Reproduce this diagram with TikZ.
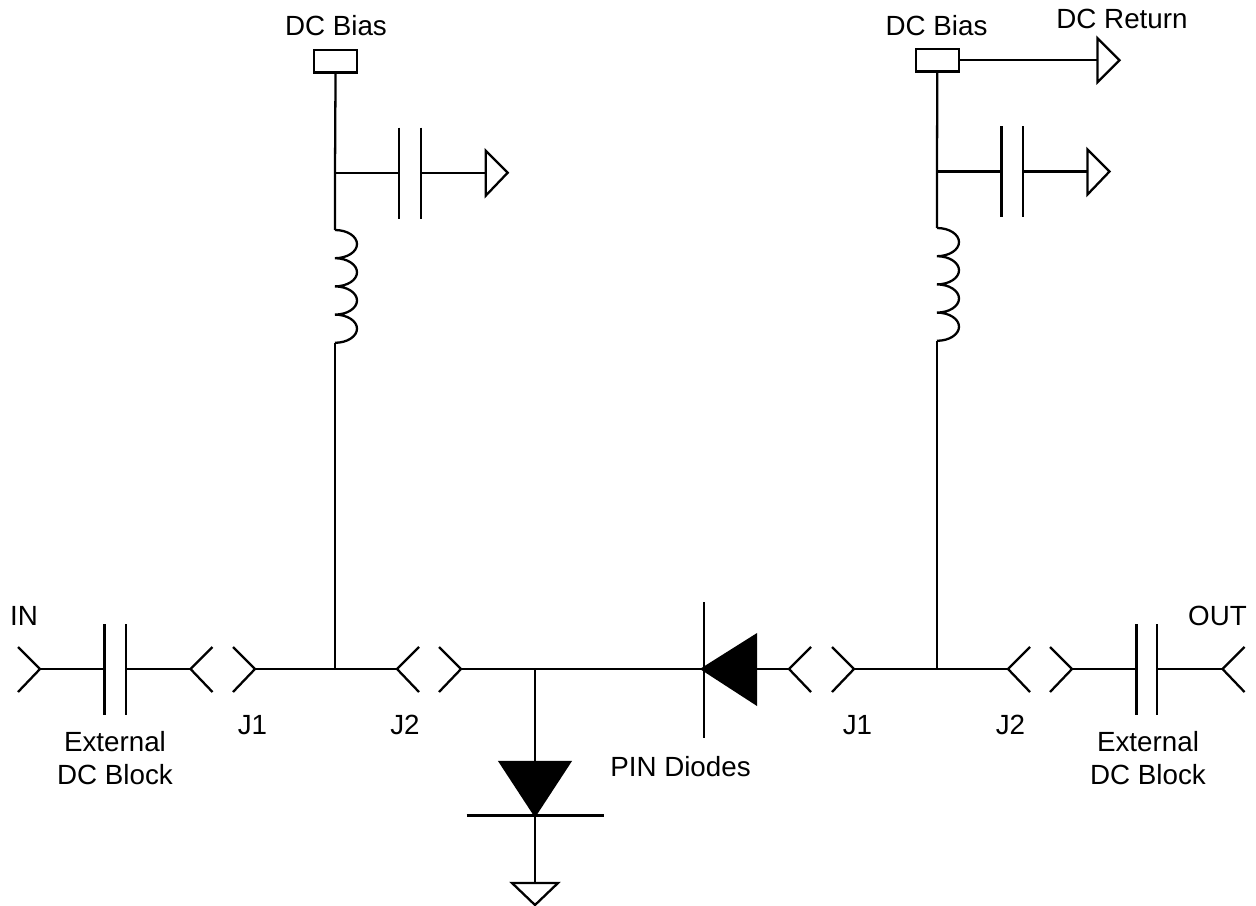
\documentclass[tikz,border=0pt]{standalone}
\usepackage{fontspec}
\setmainfont{Liberation Sans}

\tikzset{
    wire/.style={line width=1.3pt, black},
    bodyfill/.style={wire, fill=black},
    stub/.style={wire, fill=white},
    lbl/.style={anchor=base, inner sep=0pt, font=\fontsize{15.8}{18}\selectfont},
}

\begin{document}
\begin{tikzpicture}[x=0.02cm,y=-0.02cm]
            \useasboundingbox (0,0) rectangle (1256,905);

            % main line, left to right
            \coordinate (IN) at (40,669);
            \coordinate (CAL) at (104.5,669);
            \coordinate (CBL) at (126,669);
            \coordinate (PA) at (190.5,669);
            \coordinate (PB) at (255,669);
            \coordinate (JL) at (335,669);
            \coordinate (PC) at (397,669);
            \coordinate (PD) at (461,669);
            \coordinate (JM) at (535,669);
            \coordinate (DR) at (704,669);
            \coordinate (DRB) at (756,669);
            \coordinate (PE) at (789,669);
            \coordinate (PF) at (854,669);
            \coordinate (JR) at (937,669);
            \coordinate (PG) at (1008,669);
            \coordinate (PH) at (1072,669);
            \coordinate (CAR) at (1136.5,669);
            \coordinate (CBR) at (1157,669);
            \coordinate (OUT) at (1222.5,669);

            \draw[wire] (IN) -- (CAL);
            \draw[wire] (CAL) +(0,-45) -- +(0,46);
            \draw[wire] (CBL) +(0,-45) -- +(0,46);
            \draw[wire] (CBL) -- (PA);
            \draw[wire] (PB) -- (PC);
            \draw[wire] (PD) -- (DR);
            \draw[wire] (DRB) -- (PE);
            \draw[wire] (PF) -- (PG);
            \draw[wire] (PH) -- (CAR);
            \draw[wire] (CAR) +(0,-45) -- +(0,46);
            \draw[wire] (CBR) +(0,-45) -- +(0,46);
            \draw[wire] (CBR) -- (OUT);

            % connectors
            \draw[wire] (IN) +(-22,-22) -- (IN) -- +(-22,23);
            \draw[wire] (PA) +(22,-22) -- (PA) -- +(22,23);
            \draw[wire] (PB) +(-22,-22) -- (PB) -- +(-22,23);
            \draw[wire] (PC) +(22,-22) -- (PC) -- +(22,23);
            \draw[wire] (PD) +(-22,-22) -- (PD) -- +(-22,23);
            \draw[wire] (PE) +(22,-22) -- (PE) -- +(22,23);
            \draw[wire] (PF) +(-22,-22) -- (PF) -- +(-22,23);
            \draw[wire] (PG) +(22,-22) -- (PG) -- +(22,23);
            \draw[wire] (PH) +(-22,-22) -- (PH) -- +(-22,23);
            \draw[wire] (OUT) +(22,-22) -- (OUT) -- +(22,23);

            % pin diodes
            \draw[wire] (DR) +(0,-67) -- +(0,69);
            \draw[bodyfill] (DRB) +(0,-34) -- +(0,35) -- (702,669) -- cycle;

            \coordinate (DD) at (535,815.5);
            \coordinate (GM) at (535,883);
            \draw[wire] (JM) -- (535,762);
            \draw[bodyfill] (500,762) -- (570,762) -- (DD) -- cycle;
            \draw[wire] (DD) +(-68.5,0) -- +(68.5,0);
            \draw[wire] (DD) -- (GM);
            \draw[stub] (GM) +(-23,0) -- +(23,0) -- (535,905) -- cycle;

            % left bias branch
            \coordinate (TL) at (335,172.7);
            \coordinate (LL) at (335,230);
            \coordinate (LLE) at (335,342.8);
            \coordinate (CCL) at (399.3,172.7);
            \coordinate (CDL) at (421.3,172.7);
            \coordinate (GL) at (485.7,172.7);

            \node[draw, wire, minimum width=0.86cm, minimum height=0.45cm, inner sep=0pt] (padl) at (335.6,61.3) {};
            \draw[wire] (padl) -- (TL) -- (LL);
            \draw[wire] (TL) -- (CCL);
            \draw[wire] (CCL) +(0,-45) -- +(0,46);
            \draw[wire] (CDL) +(0,-45) -- +(0,46);
            \draw[wire] (CDL) -- (GL);
            \draw[stub] (GL) +(0,-22) -- +(22,0) -- +(0,23) -- cycle;
            \draw[wire] (LL) arc (-90:90:22 and 14.1) arc (-90:90:22 and 14.1)
               arc (-90:90:22 and 14.1) arc (-90:90:22 and 14.1);
            \draw[wire] (LLE) -- (JL);

            % right bias branch
            \coordinate (TR) at (937,171.5);
            \coordinate (LR) at (937,228);
            \coordinate (LRE) at (937,341);
            \coordinate (CCR) at (1001.5,171.5);
            \coordinate (CDR) at (1023,171.5);
            \coordinate (GR) at (1087.5,171.5);
            \coordinate (GT) at (1097.5,60.2);

            \node[draw, wire, minimum width=0.86cm, minimum height=0.45cm, inner sep=0pt] (padr) at (937.3,60.2) {};
            \draw[wire] (padr) -- (TR) -- (LR);
            \draw[wire] (padr.east) -- (GT);
            \draw[stub] (GT) +(0,-22) -- +(22,0) -- +(0,22) -- cycle;
            \draw[wire] (TR) -- (CCR);
            \draw[wire] (CCR) +(0,-45) -- +(0,46);
            \draw[wire] (CDR) +(0,-45) -- +(0,46);
            \draw[wire] (CDR) -- (GR);
            \draw[stub] (GR) +(0,-22) -- +(22,0) -- +(0,23) -- cycle;
            \draw[wire] (LR) arc (-90:90:22 and 14.1) arc (-90:90:22 and 14.1)
               arc (-90:90:22 and 14.1) arc (-90:90:22 and 14.1);
            \draw[wire] (LRE) -- (JR);

            % labels
            \node[lbl] (inlab) at (24,625) {IN};
            \node[lbl] (outlab) at (1217.5,625) {OUT};
            \node[lbl] (j1a) at (252.5,734) {J1};
            \node[lbl] (j2a) at (405,734) {J2};
            \node[lbl] (j1b) at (857.5,734) {J1};
            \node[lbl] (j2b) at (1010.5,734) {J2};
            \node[lbl] (exta) at (115,751) {External};
            \node[lbl] (blka) at (115,784) {DC Block};
            \node[lbl] (extb) at (1148,751) {External};
            \node[lbl] (blkb) at (1148,784) {DC Block};
            \node[lbl] (pinlab) at (680.5,776) {PIN Diodes};
            \node[lbl] (biasa) at (336,36) {DC Bias};
            \node[lbl] (biasb) at (936.5,36) {DC Bias};
            \node[lbl] (retlab) at (1122,29) {DC Return};
        \end{tikzpicture}
\end{document}
